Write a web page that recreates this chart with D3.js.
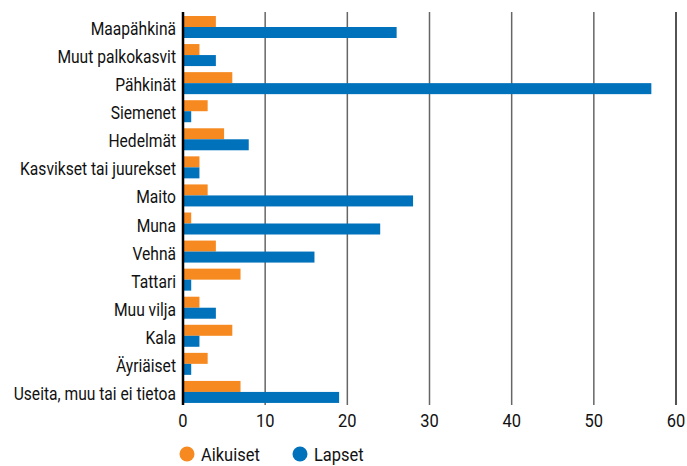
<!DOCTYPE html>
<html>
<head>
<meta charset="utf-8">
<script src="https://cdn.jsdelivr.net/npm/d3@7"></script>
<style>
  body { margin: 0; background: #fff; }
  #chart text { font-family: Roboto, "Liberation Sans", sans-serif; fill: #111; }
</style>
</head>
<body>
<div id="chart"></div>
<script>
////////////// DATA //////////////

const categories = [
    "Maapähkinä", "Muut palkokasvit", "Pähkinät", "Siemenet", "Hedelmät",
    "Kasvikset tai juurekset", "Maito", "Muna", "Vehnä", "Tattari",
    "Muu vilja", "Kala", "Äyriäiset", "Useita, muu tai ei tietoa"
];
const aikuiset = [4, 2, 6, 3, 5, 2, 3, 1, 4, 7, 2, 6, 3, 7];
const lapset = [26, 4, 57, 1, 8, 2, 28, 24, 16, 1, 4, 2, 1, 19];
const seriesNames = ["Aikuiset", "Lapset"];
const xTicks = [0, 10, 20, 30, 40, 50, 60];

////////////// CHART //////////////

const width = 687, height = 466;
const colors = { Aikuiset: "#f6891f", Lapset: "#0071bb" };

const svg = d3.select("#chart").append("svg")
    .attr("width", width)
    .attr("height", height);

// the original uses a condensed face; squeeze a regular one to the same width
const probe = svg.append("text")
    .style("font-size", "18px")
    .text("Kasvikset tai juurekset");
const sx = 156 / probe.node().getComputedTextLength();
probe.remove();

const x = d3.scaleLinear().domain([0, 60]).range([183, 676]);
const y = d3.scaleBand().domain(categories).range([12, 405]);
const barH = 11, barOffset = 4;

// gridlines
svg.append("g")
    .selectAll("line")
    .data(xTicks.slice(1))
    .enter()
    .append("line")
    .attr("x1", d => x(d))
    .attr("x2", d => x(d))
    .attr("y1", 12)
    .attr("y2", 405)
    .style("stroke", d => d === 60 ? "#1a1a1a" : "#666")
    .style("stroke-width", 1.5);

const rows = svg.append("g")
    .selectAll("g")
    .data(categories)
    .enter()
    .append("g")
    .attr("transform", d => `translate(0,${y(d)})`);

rows.append("rect")
    .attr("x", x(0))
    .attr("y", barOffset)
    .attr("height", barH)
    .attr("width", (d, i) => x(aikuiset[i]) - x(0))
    .attr("fill", colors.Aikuiset);

rows.append("rect")
    .attr("x", x(0))
    .attr("y", barOffset + barH)
    .attr("height", barH)
    .attr("width", (d, i) => x(lapset[i]) - x(0))
    .attr("fill", colors.Lapset);

rows.append("text")
    .attr("transform", `translate(176,${barOffset + barH + 8}) scale(${sx},1)`)
    .style("text-anchor", "end")
    .style("font-size", "18px")
    .text(d => d);

// zero axis line
svg.append("line")
    .attr("x1", x(0))
    .attr("x2", x(0))
    .attr("y1", 12)
    .attr("y2", 405)
    .style("stroke", "#000")
    .style("stroke-width", 2.5);

// tick labels
svg.append("g")
    .selectAll("text")
    .data(xTicks)
    .enter()
    .append("text")
    .attr("transform", d => `translate(${x(d)},427) scale(${sx},1)`)
    .style("text-anchor", "middle")
    .style("font-size", "19px")
    .text(d => d);

// legend (nudged up a little so "Lapset" stays inside the frame)
const legendX = [187, 300];
const legend = svg.append("g")
    .selectAll("g")
    .data(seriesNames)
    .enter()
    .append("g")
    .attr("transform", (d, i) => `translate(${legendX[i]},454)`);

legend.append("circle")
    .attr("r", 7.5)
    .attr("fill", d => colors[d]);

legend.append("text")
    .attr("transform", `translate(14,7) scale(${sx},1)`)
    .style("font-size", "19px")
    .text(d => d);
</script>
</body>
</html>
